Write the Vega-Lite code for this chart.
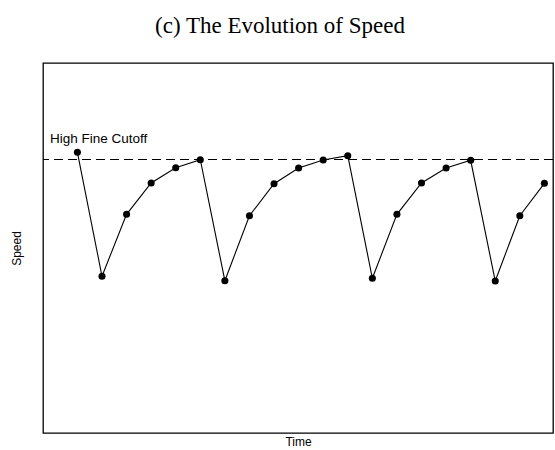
{
  "$schema": "https://vega.github.io/schema/vega-lite/v6.json",
  "description": "The evolution of speed relative to the high fine cutoff",
  "autosize": {"type": "none"},
  "padding": {"left": 43, "top": 63, "right": 2, "bottom": 17},
  "width": 510,
  "height": 370,
  "background": "white",
  "title": {
    "text": "(c) The Evolution of Speed",
    "font": "Liberation Serif",
    "fontSize": 23,
    "fontWeight": "normal",
    "color": "black",
    "anchor": "middle",
    "baseline": "alphabetic",
    "offset": 7,
    "dx": -18
  },
  "datasets": {
    "speed": [
      {"t": 1, "speed": 280.7},
      {"t": 2, "speed": 156.7},
      {"t": 3, "speed": 218.7},
      {"t": 4, "speed": 250},
      {"t": 5, "speed": 265.3},
      {"t": 6, "speed": 273.3},
      {"t": 7, "speed": 152.3},
      {"t": 8, "speed": 217.3},
      {"t": 9, "speed": 249.3},
      {"t": 10, "speed": 265},
      {"t": 11, "speed": 273},
      {"t": 12, "speed": 277.3},
      {"t": 13, "speed": 154.7},
      {"t": 14, "speed": 218.7},
      {"t": 15, "speed": 250},
      {"t": 16, "speed": 265},
      {"t": 17, "speed": 272.7},
      {"t": 18, "speed": 152},
      {"t": 19, "speed": 217.3},
      {"t": 20, "speed": 249.7}
    ],
    "cutoff": [
      {"speed": 273.5}
    ],
    "note": [
      {"t": -0.12, "speed": 290, "label": "High Fine Cutoff"}
    ]
  },
  "layer": [
    {
      "data": {"name": "cutoff"},
      "mark": {"type": "rule", "color": "black", "strokeWidth": 1.2, "strokeDash": [9, 5]},
      "encoding": {
        "y": {"field": "speed", "type": "quantitative", "scale": {"domain": [0, 370]}}
      }
    },
    {
      "data": {"name": "speed"},
      "mark": {
        "type": "line",
        "color": "black",
        "strokeWidth": 1.1,
        "point": {"filled": true, "size": 50, "color": "black", "opacity": 1}
      },
      "encoding": {
        "x": {
          "field": "t",
          "type": "quantitative",
          "scale": {"domain": [-0.4, 20.35], "nice": false, "zero": false},
          "axis": {"title": "Time", "titlePadding": 3}
        },
        "y": {
          "field": "speed",
          "type": "quantitative",
          "scale": {"domain": [0, 370], "nice": false},
          "axis": {"title": "Speed", "titlePadding": 20}
        }
      }
    },
    {
      "data": {"name": "note"},
      "mark": {
        "type": "text",
        "align": "left",
        "baseline": "alphabetic",
        "font": "Liberation Sans",
        "fontSize": 13.5,
        "color": "black"
      },
      "encoding": {
        "x": {"field": "t", "type": "quantitative"},
        "y": {"field": "speed", "type": "quantitative"},
        "text": {"field": "label"}
      }
    }
  ],
  "config": {
    "view": {"stroke": "black", "strokeWidth": 1.3},
    "axis": {
      "grid": false,
      "ticks": false,
      "labels": false,
      "domain": false,
      "titleFont": "Liberation Sans",
      "titleFontSize": 12,
      "titleFontWeight": "normal",
      "titleColor": "black"
    }
  }
}
